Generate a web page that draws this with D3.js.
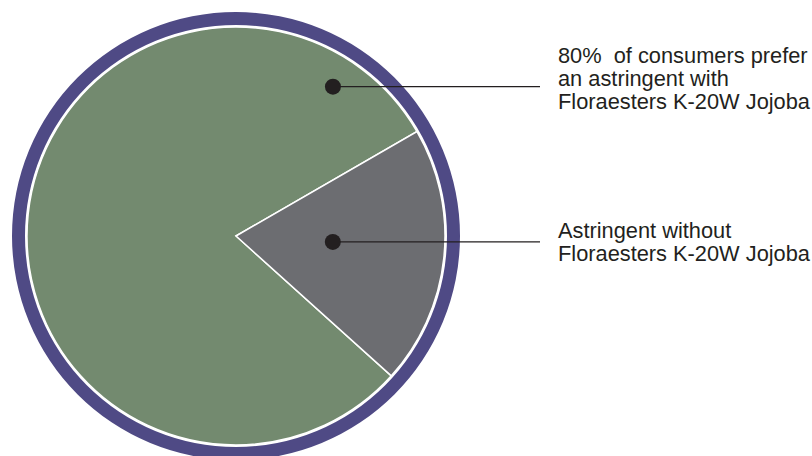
<!DOCTYPE html>
<html>
<head>
<meta charset="utf-8">
<script src="https://cdn.jsdelivr.net/npm/d3@7"></script>
<style>
  body { margin: 0; background: #fff; }
  svg { display: block; }
</style>
</head>
<body>
<svg id="chart" width="812" height="456"></svg>
<script>
// data
var categories = ["With Floraesters K-20W Jojoba", "Without Floraesters K-20W Jojoba"];
var shares = [80, 20];
var labelLines = [
  ["80%  of consumers prefer", "an astringent with", "Floraesters K-20W Jojoba"],
  ["Astringent without", "Floraesters K-20W Jojoba"]
];
var colors = ["#738a6f", "#6c6d71"];

var svg = d3.select("#chart"),
    cx = 236, cy = 236,
    ringOuter = 224, ringInner = 211,
    pieR = 209,
    g = svg.append("g").attr("transform", "translate(" + cx + "," + cy + ")");

var deg = Math.PI / 180;

// outer purple ring
g.append("path")
    .attr("d", d3.arc().innerRadius(ringInner).outerRadius(ringOuter)
      .startAngle(0).endAngle(2 * Math.PI)())
    .attr("fill", "#4f4a85");

var pie = d3.pie().sort(null)
    .startAngle(132 * deg)
    .endAngle(132 * deg + 2 * Math.PI);

var arc = d3.arc().innerRadius(0).outerRadius(pieR);

var arcs = pie(shares);

g.selectAll(".slice")
  .data(arcs)
  .enter().append("path")
    .attr("class", "slice")
    .attr("d", arc)
    .attr("fill", function(d, i) { return colors[i]; })
    .attr("stroke", "#fff")
    .attr("stroke-width", 1.5);

// where the callout dots sit (angle from 12 o'clock, distance from centre)
var dotPos = [{a: 33, r: 178}, {a: 93.5, r: 97}];
var lineEndX = 540, textX = 558;
var firstBaseline = [63, 238], lineGap = 23;

dotPos.forEach(function(p, i) {
  var x = cx + p.r * Math.sin(p.a * deg),
      y = cy - p.r * Math.cos(p.a * deg);
  svg.append("line")
      .attr("x1", x).attr("y1", y)
      .attr("x2", lineEndX).attr("y2", y)
      .attr("stroke", "#231f20")
      .attr("stroke-width", 1.3);
  svg.append("circle")
      .attr("cx", x).attr("cy", y)
      .attr("r", 8)
      .attr("fill", "#231f20");

  var t = svg.append("text")
      .attr("x", textX)
      .attr("y", firstBaseline[i])
      .attr("fill", "#231f20")
      .style("font", "21.8px 'Liberation Sans', Arial, sans-serif");
  labelLines[i].forEach(function(line, j) {
    t.append("tspan")
        .attr("x", textX)
        .attr("y", firstBaseline[i] + j * lineGap)
        .style("white-space", "pre")
        .text(line);
  });
});
</script>
</body>
</html>
